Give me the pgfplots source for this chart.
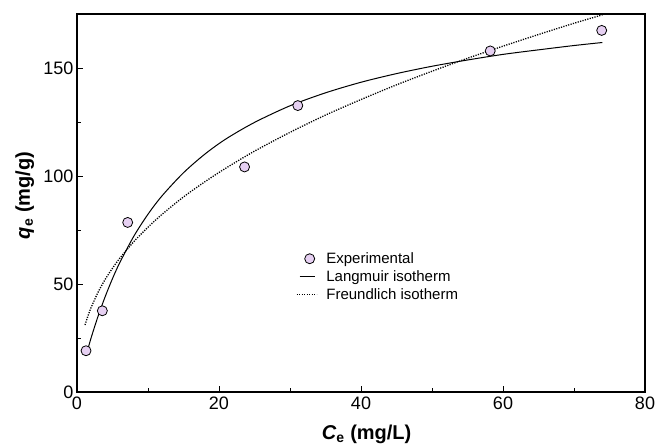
\documentclass[border=0pt]{standalone}
\usepackage{fontspec}
\setmainfont{Liberation Sans}
\usepackage{pgfplots}
\pgfplotsset{compat=1.18}
\definecolor{lavender}{RGB}{230,208,242}
\pgfplotsset{
  leg mark/.style={legend image code/.code={\draw[##1] plot coordinates {(13pt,0pt)};}},
  leg solid/.style={legend image code/.code={\draw[##1] (3pt,0pt) -- (18pt,0pt);}},
  leg dotted/.style={legend image code/.code={\draw[##1] (0pt,0pt) -- (20pt,0pt);}},
}

\begin{document}
\begin{tikzpicture}
\begin{axis}[
    set layers,
    scale only axis, width=568pt, height=378pt,
    xmin=0, xmax=80, ymin=0, ymax=175,
    xtick={0,20,40,60,80}, ytick={0,50,100,150},
    minor x tick num=1, minor y tick num=1,
    tick pos=left, tick align=inside,
    major tick length=5.5pt, minor tick length=3.5pt,
    axis line style={line width=1.6pt},
    every tick/.style={black, line width=0.8pt},
    /pgf/number format/assume math mode=true,
    ticklabel style={font=\fontsize{18}{20}\selectfont},
    xticklabel style={yshift=-1pt},
    every axis y label/.style={at={(axis description cs:-0.092,0.52)}, rotate=90, anchor=center},
    every axis x label/.style={at={(axis description cs:0.51,-0.113)}, anchor=center},
    xlabel={\fontsize{20}{22}\selectfont\bfseries\itshape C\textsubscript{\upshape e}\upshape\ (mg/L)},
    ylabel={\fontsize{20}{22}\selectfont\bfseries\itshape q\textsubscript{\upshape e}\upshape\ (mg/g)},
    legend style={at={(0.38,0.38)}, anchor=north west, draw=none, fill=none,
        font=\fontsize{15}{17}\selectfont, row sep=1.5pt, column sep=7pt},
    legend cell align=left,
  ]
  % Experimental
  \addplot[only marks, mark=*, mark size=5pt, mark options={fill=lavender, draw=black, line width=0.8pt},
    on layer=axis foreground, leg mark] coordinates {
    (1.27,19.1)(3.57,37.6)(7.14,78.5)(23.6,104.2)(31.1,132.6)(58.2,157.9)(73.9,167.4)
  };
  \addlegendentry{Experimental}
  % Langmuir fit
  \addplot[black, line width=1pt, smooth, leg solid] coordinates {
    (1.27,16.8)(2,25.2)(3,35.4)(4,44.4)(5,52.5)(6,59.7)(8,72.1)(10,82.3)(12,90.9)
    (15,101.5)(18,110.1)(21,117.2)(25,124.8)(30,132.5)(35,138.5)(40,143.4)(45,147.4)
    (50,150.8)(55,153.7)(60,156.3)(65,158.4)(70,160.4)(74,161.8)
  };
  \addlegendentry{Langmuir isotherm}
  % Freundlich fit
  \addplot[black, line width=1.3pt, dash pattern=on 1.2pt off 1.3pt, smooth, leg dotted] coordinates {
    (1.13,31.0)(1.5,34.8)(2,39.2)(3,46.4)(4,52.3)(5,57.3)(6,61.8)(8,69.6)(10,76.3)
    (12,82.3)(15,90.3)(18,97.3)(21,103.7)(25,111.5)(30,120.2)(35,128.2)(40,135.4)
    (45,142.2)(50,148.5)(55,154.5)(60,160.1)(65,165.5)(70,170.7)(74,174.6)
  };
  \addlegendentry{Freundlich isotherm}
\end{axis}
\pgfresetboundingbox
\useasboundingbox ([shift={(-77pt,-54pt)}]current axis.south west) rectangle ([shift={(12pt,14pt)}]current axis.north east);
\end{tikzpicture}
\end{document}
